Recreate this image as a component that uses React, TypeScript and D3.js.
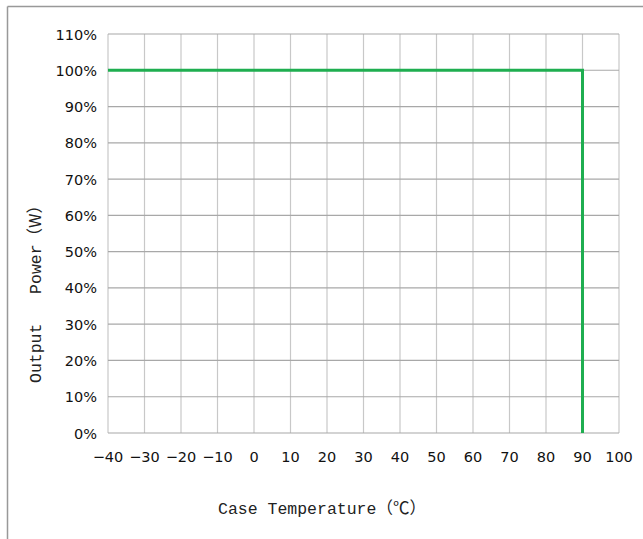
import React from 'react'
import * as d3 from 'd3'

const xTicks = [-40, -30, -20, -10, 0, 10, 20, 30, 40, 50, 60, 70, 80, 90, 100]
const yTicks = [0, 10, 20, 30, 40, 50, 60, 70, 80, 90, 100, 110]
// derating curve: case temperature (°C) vs output power (%)
const curveTemp = [-40, 90, 90]
const curvePower = [100, 100, 0]

const W = 643
const H = 539

export default function App() {
  const x = d3.scaleLinear().domain([-40, 100]).range([108, 619])
  const y = d3.scaleLinear().domain([0, 110]).range([433, 34])

  const line = d3
    .line<number>()
    .x((_, i) => x(curveTemp[i]))
    .y((_, i) => y(curvePower[i]))

  const titleFont = "'Liberation Mono', 'Noto Sans CJK SC'"

  return (
    <svg
      width={W}
      height={H}
      style={{ position: 'absolute', left: 0, top: 0, background: '#fff' }}
    >
      <rect x={0} y={0} width={W} height={H} fill="#fff" />
      {/* outer frame */}
      <line x1={7.5} y1={6.5} x2={W} y2={6.5} stroke="#999" strokeWidth={1.5} />
      <line x1={7.5} y1={6.5} x2={7.5} y2={H} stroke="#999" strokeWidth={1.5} />

      {/* grid */}
      {xTicks.map(t => (
        <line key={'gx' + t} x1={x(t)} x2={x(t)} y1={y(110)} y2={y(0)} stroke="#c8c8c8" strokeWidth={1.2} />
      ))}
      {yTicks.map(t => (
        <line key={'gy' + t} x1={x(-40)} x2={x(100)} y1={y(t)} y2={y(t)} stroke="#a8a8a8" strokeWidth={1.2} />
      ))}

      {/* tick labels */}
      {yTicks.map(t => (
        <text
          key={'ly' + t}
          x={97}
          y={y(t) + 5.5}
          textAnchor="end"
          fontFamily="DejaVu Sans"
          fontSize={14.5}
          fill="#111"
        >
          {t + '%'}
        </text>
      ))}
      {xTicks.map(t => (
        <text
          key={'lx' + t}
          x={x(t)}
          y={462}
          textAnchor="middle"
          fontFamily="DejaVu Sans"
          fontSize={14.5}
          fill="#111"
        >
          {t < 0 ? '\u2212' + Math.abs(t) : String(t)}
        </text>
      ))}

      {/* curve */}
      <path d={line(curveTemp) || ''} fill="none" stroke="#1fae50" strokeWidth={3} />

      {/* axis titles */}
      <text x={218} y={514} fontFamily={titleFont} fontSize={16.5} fill="#222">
        <tspan>Case Temperature</tspan>
        <tspan fontFamily="'Noto Sans CJK SC'">（℃）</tspan>
      </text>
      <text
        transform={`translate(41,383) rotate(-90)`}
        fontFamily={titleFont}
        fontSize={16.5}
        fill="#222"
        xmlSpace="preserve"
      >
        <tspan>{'Output   Power'}</tspan>
        <tspan fontFamily="'Noto Sans CJK SC'">（W）</tspan>
      </text>
    </svg>
  )
}
